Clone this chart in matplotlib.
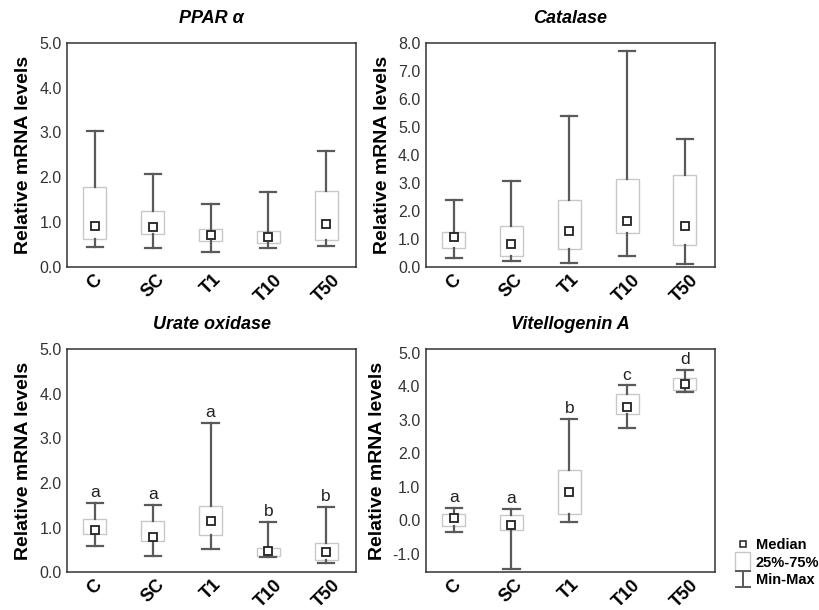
import matplotlib
matplotlib.use("Agg")
import matplotlib.pyplot as plt
from matplotlib.lines import Line2D
from matplotlib.patches import Rectangle
from matplotlib.legend_handler import HandlerBase

plt.rcParams['font.family'] = ['Liberation Sans', 'DejaVu Sans']

groups = ['C', 'SC', 'T1', 'T10', 'T50']

# min, q1, median, q3, max for each group
ppar_min = [0.45, 0.42, 0.33, 0.42, 0.48]
ppar_q1 = [0.63, 0.75, 0.58, 0.53, 0.60]
ppar_med = [0.91, 0.90, 0.72, 0.67, 0.97]
ppar_q3 = [1.78, 1.26, 0.85, 0.81, 1.69]
ppar_max = [3.03, 2.07, 1.41, 1.67, 2.58]

cat_min = [0.32, 0.21, 0.16, 0.41, 0.12]
cat_q1 = [0.69, 0.39, 0.66, 1.22, 0.80]
cat_med = [1.09, 0.82, 1.29, 1.66, 1.48]
cat_q3 = [1.25, 1.47, 2.39, 3.16, 3.28]
cat_max = [2.39, 3.08, 5.37, 7.69, 4.57]

uox_min = [0.58, 0.37, 0.53, 0.35, 0.20]
uox_q1 = [0.85, 0.69, 0.83, 0.37, 0.28]
uox_med = [0.94, 0.79, 1.14, 0.47, 0.46]
uox_q3 = [1.18, 1.14, 1.49, 0.55, 0.65]
uox_max = [1.56, 1.50, 3.34, 1.12, 1.47]
uox_letters = ['a', 'a', 'a', 'b', 'b']

vtg_min = [-0.35, -1.45, -0.06, 2.75, 3.82]
vtg_q1 = [-0.16, -0.28, 0.18, 3.18, 3.90]
vtg_med = [0.08, -0.15, 0.86, 3.38, 4.08]
vtg_q3 = [0.20, 0.15, 1.50, 3.77, 4.24]
vtg_max = [0.37, 0.33, 3.03, 4.03, 4.50]
vtg_letters = ['a', 'a', 'b', 'c', 'd']

box_edge = '#c8c8c8'
whisk = '#5a5a5a'


def draw_panel(ax, title, mins, q1s, meds, q3s, maxs, ylim, yticks, letters=None):
    stats = []
    for lo, a, m, b, hi in zip(mins, q1s, meds, q3s, maxs):
        stats.append({'whislo': lo, 'q1': a, 'med': m, 'q3': b, 'whishi': hi,
                      'mean': m, 'fliers': []})
    ax.bxp(stats, positions=range(len(groups)), widths=0.4, capwidths=0.28,
           patch_artist=True, showmeans=True, showfliers=False,
           boxprops=dict(facecolor='white', edgecolor=box_edge, linewidth=1.0),
           whiskerprops=dict(color=whisk, linewidth=1.6),
           capprops=dict(color=whisk, linewidth=1.6),
           medianprops=dict(linewidth=0),
           meanprops=dict(marker='s', markerfacecolor='white', markeredgecolor='#222222',
                          markersize=5.5, markeredgewidth=1.3))
    ax.set_xlim(-0.48, 4.52)
    ax.set_ylim(*ylim)
    ax.set_yticks(yticks)
    ax.set_yticklabels(['%.1f' % v for v in yticks], fontsize=11.5, color='#333333')
    ax.set_xticks(range(len(groups)))
    ax.set_xticklabels(groups, rotation=45, fontsize=13, fontweight='bold',
                       ha='center', va='top', rotation_mode='default')
    ax.tick_params(length=0, pad=4)
    ax.tick_params(axis='x', pad=3)
    for s in ax.spines.values():
        s.set_color('#333333')
        s.set_linewidth(1.1)
    ax.set_ylabel('Relative mRNA levels', fontsize=14, fontweight='bold', labelpad=5)
    ax.set_title(title, fontsize=13, fontweight='bold', style='italic', pad=14)
    if letters:
        for i, (t, hi) in enumerate(zip(letters, maxs)):
            ax.annotate(t, (i, hi), xytext=(0, 2), textcoords='offset points',
                        ha='center', va='bottom', fontsize=12.5, color='#222222')


class HandlerIBar(HandlerBase):
    def create_artists(self, legend, orig_handle, xd, yd, w, h, fontsize, trans):
        cx = xd + w / 2
        lines = [
            Line2D([cx, cx], [yd - 2, yd + h + 2], color=whisk, lw=1.4, transform=trans),
            Line2D([cx - 5, cx + 5], [yd - 2, yd - 2], color=whisk, lw=1.4, transform=trans),
            Line2D([cx - 5, cx + 5], [yd + h + 2, yd + h + 2], color=whisk, lw=1.4, transform=trans),
        ]
        return lines


class HandlerTallBox(HandlerBase):
    def create_artists(self, legend, orig_handle, xd, yd, w, h, fontsize, trans):
        cx = xd + w / 2
        r = Rectangle((cx - 5.5, yd - 3), 11, h + 6, facecolor='white',
                      edgecolor=box_edge, lw=1.0, transform=trans)
        return [r]


fig = plt.figure(figsize=(8.19, 6.10), dpi=100)
ax1 = fig.add_axes([0.082, 0.562, 0.353, 0.368])
ax2 = fig.add_axes([0.520, 0.562, 0.353, 0.368])
ax3 = fig.add_axes([0.082, 0.062, 0.353, 0.366])
ax4 = fig.add_axes([0.520, 0.062, 0.353, 0.366])

draw_panel(ax1, 'PPAR α', ppar_min, ppar_q1, ppar_med, ppar_q3, ppar_max,
           (0, 5), [0, 1, 2, 3, 4, 5])
draw_panel(ax2, 'Catalase', cat_min, cat_q1, cat_med, cat_q3, cat_max,
           (0, 8), [0, 1, 2, 3, 4, 5, 6, 7, 8])
draw_panel(ax3, 'Urate oxidase', uox_min, uox_q1, uox_med, uox_q3, uox_max,
           (0, 5), [0, 1, 2, 3, 4, 5], uox_letters)
draw_panel(ax4, 'Vitellogenin A', vtg_min, vtg_q1, vtg_med, vtg_q3, vtg_max,
           (-1.55, 5.12), [-1, 0, 1, 2, 3, 4, 5], vtg_letters)

med_handle = Line2D([], [], linestyle='none', marker='s', markersize=5,
                    markerfacecolor='white', markeredgecolor='#222222', markeredgewidth=1.1)
box_handle = Rectangle((0, 0), 1, 1)
bar_handle = Line2D([], [])
leg = fig.legend([med_handle, box_handle, bar_handle], ['Median', '25%-75%', 'Min-Max'],
                 handler_map={box_handle: HandlerTallBox(), bar_handle: HandlerIBar()},
                 loc='upper left', bbox_to_anchor=(0.898, 0.118), frameon=False,
                 prop=dict(size=10.5, weight='bold'), handlelength=1.0,
                 handletextpad=0.4, labelspacing=0.25, borderaxespad=0, borderpad=0)

fig.savefig('out.png', dpi=100)
